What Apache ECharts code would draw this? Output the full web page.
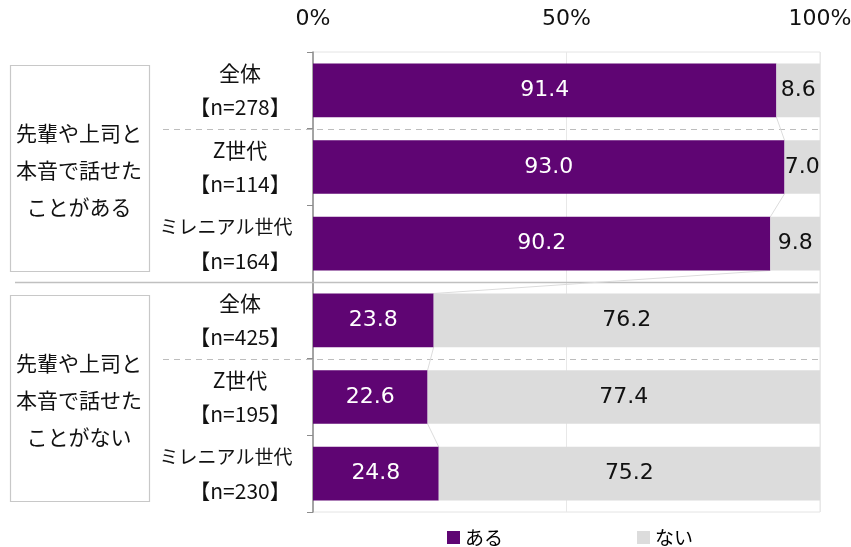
<!DOCTYPE html>
<html>
<head>
<meta charset="utf-8">
<script src="https://cdn.jsdelivr.net/npm/echarts@6/dist/echarts.min.js"></script>
<style>
  html, body { margin: 0; padding: 0; background: #fff; }
  #main { width: 851px; height: 547px; }
</style>
</head>
<body>
<div id="main"></div>
<script>
// データ
var segments = ['全体', 'Z世代', 'ミレニアル世代', '全体', 'Z世代', 'ミレニアル世代'];
var sizes = [278, 114, 164, 425, 195, 230];
var aru = [91.4, 93.0, 90.2, 23.8, 22.6, 24.8];
var nai = [8.6, 7.0, 9.8, 76.2, 77.4, 75.2];
var groups = ['先輩や上司と\n本音で話せた\nことがある', '先輩や上司と\n本音で話せた\nことがない'];
var xTicks = [0, 50, 100];

var categories = segments.map(function (s, i) { return s + '\n【n=' + sizes[i] + '】'; });

var PURPLE = '#5f0573';
var GRAY = '#dcdcdc';
var JP = '"Noto Sans CJK JP", sans-serif';
var NUM = '"DejaVu Sans", sans-serif';

var chart = echarts.init(document.getElementById('main'));

// 棒どうしをつなぐ線
var linkData = [];
for (var i = 0; i < aru.length - 1; i++) {
    linkData.push([aru[i], i, aru[i + 1]]);
}

function valLabel(p) { return p.value.toFixed(1); }

var option = {
    animation: false,
    textStyle: { fontFamily: JP },
    grid: {
        left: 313, right: 31, top: 52, bottom: 35,
        outerBoundsMode: 'none', containLabel: false,
        show: true, borderColor: '#e4e4e4', borderWidth: 1
    },
    legend: {
        data: ['ある', 'ない'],
        top: 523, left: 442,
        icon: 'rect', itemWidth: 13, itemHeight: 13, itemGap: 134,
        textStyle: { fontSize: 19, color: '#000', fontFamily: JP }
    },
    xAxis: {
        type: 'value', position: 'top',
        min: xTicks[0], max: xTicks[2], interval: 50,
        axisLine: { show: false },
        axisTick: { show: false },
        axisLabel: { formatter: '{value}%', fontSize: 22, color: '#111', margin: 22, fontFamily: NUM },
        splitLine: { show: true, lineStyle: { color: '#e8e8e8' } }
    },
    yAxis: {
        type: 'category', inverse: true, data: categories,
        axisLine: { show: true, lineStyle: { color: '#8c8c8c', width: 1.5 } },
        axisTick: { show: true, length: 6, lineStyle: { color: '#8c8c8c' } },
        axisLabel: {
            fontSize: 21, color: '#111', lineHeight: 34, align: 'center', margin: 73,
            fontFamily: JP,
            formatter: function (v) {
                var parts = v.split('\n');
                if (parts[0].length > 4) {
                    return '{m|' + parts[0] + '}\n' + parts[1];
                }
                return v;
            },
            rich: {
                m: { fontSize: 19, lineHeight: 34, padding: [0, 28, 0, 0], fontFamily: JP, color: '#111' }
            }
        }
    },
    series: [
        {
            name: 'ある', type: 'bar', stack: 'total', barWidth: '70%',
            itemStyle: { color: PURPLE },
            label: { show: true, position: 'inside', color: '#fff', fontSize: 22, fontFamily: NUM,
                     formatter: valLabel },
            data: aru, z: 3
        },
        {
            name: 'ない', type: 'bar', stack: 'total', barWidth: '70%',
            itemStyle: { color: GRAY },
            label: { show: true, position: 'inside', color: '#111', fontSize: 22, fontFamily: NUM,
                     formatter: valLabel },
            data: nai, z: 3
        },
        {
            name: 'link', type: 'custom', z: 2, silent: true,
            encode: { x: 0, y: 1 },
            renderItem: function (params, api) {
                var a = api.coord([api.value(0), api.value(1)]);
                var b = api.coord([api.value(2), api.value(1) + 1]);
                var half = api.size([0, 1])[1] * 0.35;
                return {
                    type: 'line',
                    shape: { x1: a[0], y1: a[1] + half, x2: b[0], y2: b[1] - half },
                    style: { stroke: '#dcdcdc', lineWidth: 1 }
                };
            },
            data: linkData
        }
    ]
};
chart.setOption(option);

// 区切り線とグループの枠
function drawDecor() {
    var c0 = chart.convertToPixel({ yAxisIndex: 0 }, 0);
    var c1 = chart.convertToPixel({ yAxisIndex: 0 }, 1);
    var band = c1 - c0;
    var top = c0 - band / 2;
    var xRight = chart.convertToPixel({ xAxisIndex: 0 }, 100);
    var g = [];
    function yb(k) { return Math.round(top + k * band) + 0.5; }
    [1, 4].forEach(function (k) {
        g.push({ type: 'line', z: 1, shape: { x1: 163, y1: yb(k), x2: xRight - 2, y2: yb(k) },
                 style: { stroke: '#bdbdbd', lineWidth: 1.2, lineDash: [6, 5] } });
    });
    g.push({ type: 'line', z: 1, shape: { x1: 15, y1: yb(3), x2: xRight - 2, y2: yb(3) },
             style: { stroke: '#c0c0c0', lineWidth: 1.5 } });
    groups.forEach(function (txt, gi) {
        var y0 = top + gi * 3 * band + 13;
        var h = 3 * band - 24;
        g.push({ type: 'rect', shape: { x: 10.5, y: Math.round(y0) + 0.5, width: 139, height: Math.round(h) },
                 style: { fill: '#fff', stroke: '#c8c8c8', lineWidth: 1.2 } });
        g.push({ type: 'text', x: 79, y: y0 + h / 2 + 2,
                 style: { text: txt, fill: '#111', font: '21px ' + JP, lineHeight: 37,
                          align: 'center', verticalAlign: 'middle' } });
    });
    chart.setOption({ graphic: g });
}
drawDecor();
</script>
</body>
</html>
